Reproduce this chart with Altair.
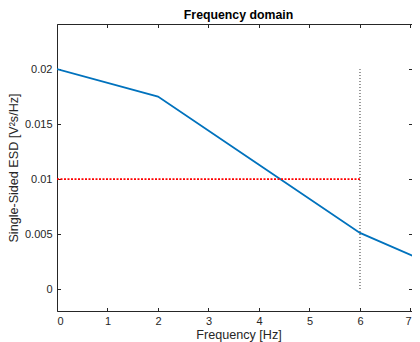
import altair as alt
import pandas as pd

# --- data ---
freq = [0, 2, 4, 6, 8]
esd = [0.0200, 0.0175, 0.0113, 0.0051, 0.0011]
x_ticks = [0, 1, 2, 3, 4, 5, 6, 7]
y_ticks = [0, 0.005, 0.01, 0.015, 0.02]
thr_level = [0.01]
thr_from = [0]
thr_to = [6]
cut_freq = [6]
cut_lo = [0]
cut_hi = [0.02]

W, H = 355, 287
FONT = "Liberation Sans"
INK = "#262626"

xs = alt.Scale(domain=[0, 7.03], nice=False, zero=False)
ys = alt.Scale(domain=[-0.002, 0.0241], nice=False, zero=False)

common = dict(labelFont=FONT, titleFont=FONT, labelColor=INK, titleColor=INK,
              domainColor=INK, tickColor=INK, grid=False, domainWidth=1, tickWidth=1)

line_df = pd.DataFrame({"f": freq, "e": esd})
thr_df = pd.DataFrame({"x": thr_from, "x2": thr_to, "y": thr_level})
cut_df = pd.DataFrame({"x": cut_freq, "y": cut_lo, "y2": cut_hi})

line = alt.Chart(line_df).mark_line(color="#0072BD", strokeWidth=1.8, clip=True).encode(
    x=alt.X("f:Q", scale=xs, axis=alt.Axis(
        orient="bottom", values=x_ticks, ticks=False, labelPadding=4, format="d",
        labelOffset={"expr": "datum.value == 7 ? -2.5 : 0"},
        labelFontSize=11, title="Frequency [Hz]", titleFontSize=12.6, titleFontWeight="normal",
        titleBaseline="alphabetic", titleY=27, titleX=181.5, **common)),
    y=alt.Y("e:Q", scale=ys, axis=alt.Axis(
        orient="left", values=y_ticks, ticks=False, labelPadding=5, format="~g",
        labelFontSize=11, title="Single-Sided ESD  [V²s/Hz]", titleFontSize=12.6,
        titleFontWeight="normal", titleBaseline="alphabetic", titleX=-39.5, **common)),
)

thr = alt.Chart(thr_df).mark_rule(color="#FF0000", strokeWidth=1.8, strokeDash=[2, 1.5]).encode(
    x=alt.X("x:Q", scale=xs, axis=alt.Axis(
        orient="top", values=x_ticks, labels=False, domain=False, tickSize=3.5,
        offset=-H, title="", **common)),
    x2="x2:Q",
    y=alt.Y("y:Q", scale=ys, axis=alt.Axis(
        orient="right", values=y_ticks, labels=False, domain=False, tickSize=3.5,
        offset=-W, title="", **common)),
)

cut = alt.Chart(cut_df).mark_rule(color="#333333", strokeWidth=1, strokeDash=[1, 2]).encode(
    x=alt.X("x:Q", scale=xs, axis=alt.Axis(
        orient="bottom", values=x_ticks, labels=False, domain=True, tickSize=3.5,
        offset=-H, title="", **common)),
    y=alt.Y("y:Q", scale=ys, axis=alt.Axis(
        orient="left", values=y_ticks, labels=False, domain=True, tickSize=3.5,
        offset=-W, title="", **common)),
    y2="y2:Q",
)

chart = alt.layer(line, thr, cut).resolve_axis(x="independent", y="independent").properties(
    width=W, height=H,
    title=alt.TitleParams("Frequency domain", font=FONT, fontSize=12.3, fontWeight="bold",
                          color="black", baseline="alphabetic", offset=5.5, dy=13.5, dx=4,
                          frame="group"),
    autosize=alt.AutoSizeParams(type="none"),
    padding={"left": 49, "top": 16, "right": 0, "bottom": 31},
    background="white",
).configure_view(stroke=None)

chart.save("out.html", embed_options={"renderer": "svg", "actions": False})
